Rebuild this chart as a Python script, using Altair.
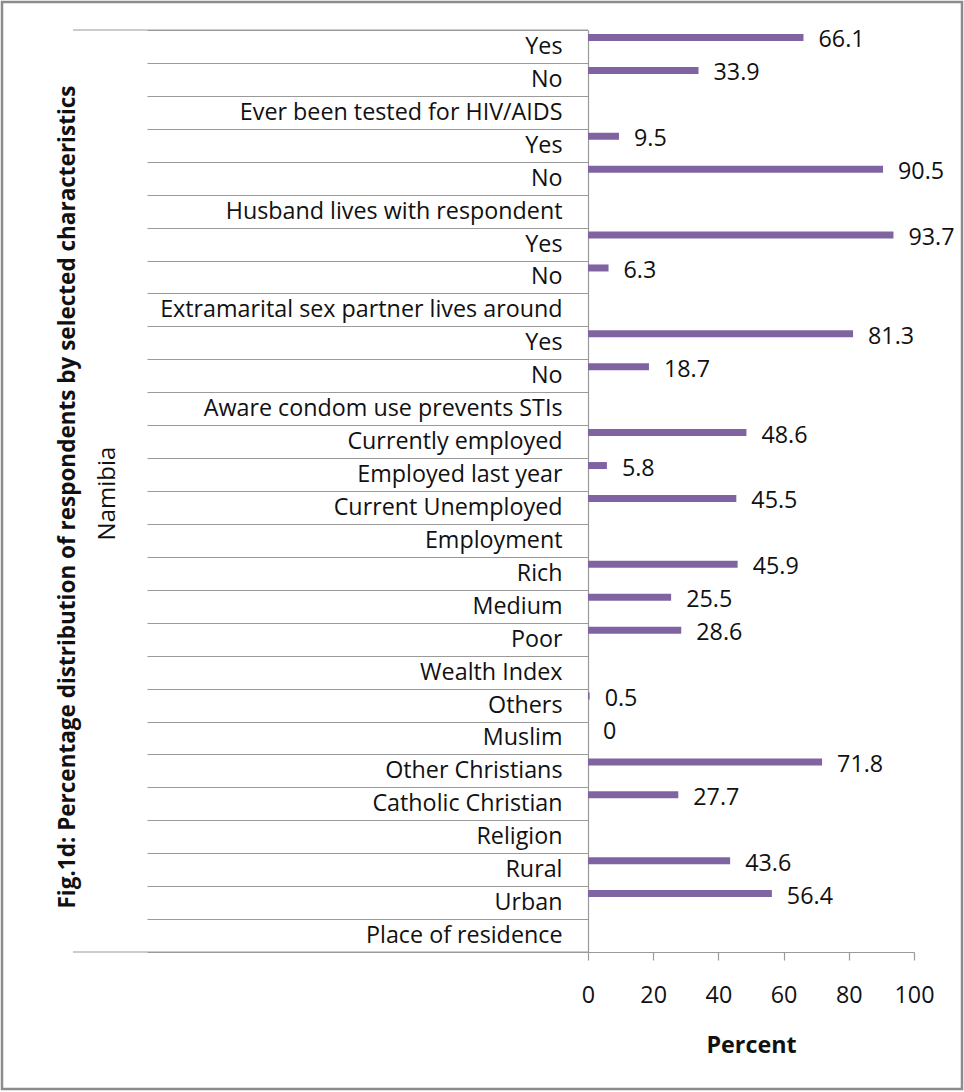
import altair as alt
import pandas as pd

categories = [
    "Yes", "No", "Ever been tested for HIV/AIDS",
    "Yes", "No", "Husband lives with respondent",
    "Yes", "No", "Extramarital sex partner lives around",
    "Yes", "No", "Aware condom use prevents STIs",
    "Currently employed", "Employed last year", "Current Unemployed", "Employment",
    "Rich", "Medium", "Poor", "Wealth Index",
    "Others", "Muslim", "Other Christians", "Catholic Christian", "Religion",
    "Rural", "Urban", "Place of residence",
]
values = [
    66.1, 33.9, None,
    9.5, 90.5, None,
    93.7, 6.3, None,
    81.3, 18.7, None,
    48.6, 5.8, 45.5, None,
    45.9, 25.5, 28.6, None,
    0.5, 0, 71.8, 27.7, None,
    43.6, 56.4, None,
]
x_ticks = [0, 20, 40, 60, 80, 100]
group_label = "Namibia"
fig_title = "Fig.1d: Percentage distribution of respondents by selected characteristics"
x_title = "Percent"

FONT = "Open Sans"
FS = 23.3
W, H = 326, 922
BAR_COLOR = "#8064A2"
LINE = "#9a9a9a"

keys = [f"{i:02d}|{c}" for i, c in enumerate(categories)]
df = pd.DataFrame({
    "key": keys,
    "value": values,
    "label": ["" if v is None else f"{v:g}" for v in values],
})
vals_df = df[df["label"] != ""].copy()
one = pd.DataFrame({"a": [0]})

y_enc = alt.Y(
    "key:N",
    sort=None,
    scale=alt.Scale(domain=keys, paddingInner=0, paddingOuter=0),
    axis=alt.Axis(
        title=group_label,
        titleX=-481, titleY=H / 2 + 2, titleAngle=270,
        titleAlign="center", titleBaseline="middle",
        titleFont=FONT, titleFontSize=24, titleFontWeight="normal", titleColor="#111",
        labelExpr="split(datum.label, '|')[1]",
        labelFont=FONT, labelFontSize=FS, labelColor="#111", labelLimit=600,
        labelPadding=-415, labelBaseline="middle",
        tickBand="extent", tickSize=441, tickColor=LINE, tickWidth=1.2,
        domainColor=LINE, domainWidth=1.2,
    ),
)
x_enc = alt.X(
    "value:Q",
    scale=alt.Scale(domain=[0, 100], nice=False),
    axis=alt.Axis(
        values=x_ticks, title=x_title,
        labelFont=FONT, labelFontSize=FS, labelColor="#111", labelPadding=24,
        labelFlush=False,
        titleFont=FONT, titleFontSize=FS, titleFontWeight="bold", titleColor="#111",
        titlePadding=28,
        tickSize=8, tickColor=LINE, tickWidth=1.2,
        domainColor=LINE, domainWidth=1.2, grid=False,
    ),
)

frame = alt.Chart(one).mark_rect(fillOpacity=0, stroke="#8c8c8c", strokeWidth=2.5).encode(
    x=alt.value(-586), x2=alt.value(374), y=alt.value(-28), y2=alt.value(1059)
)
title_txt = alt.Chart(one).mark_text(
    text=fig_title, angle=270, font=FONT, fontSize=22.5, fontWeight="bold",
    align="center", baseline="middle", color="#111"
).encode(x=alt.value(-520), y=alt.value(467))
top_rule = alt.Chart(one).mark_rule(color=LINE, strokeWidth=1.2).encode(
    x=alt.value(-515), x2=alt.value(0), y=alt.value(0)
)
bot_rule = alt.Chart(one).mark_rule(color=LINE, strokeWidth=1.2).encode(
    x=alt.value(-515), x2=alt.value(0), y=alt.value(H)
)
bars = alt.Chart(vals_df).mark_bar(size=7, yOffset=-9, color=BAR_COLOR).encode(
    x=x_enc, y=y_enc
)
labels = alt.Chart(vals_df).mark_text(
    align="left", baseline="middle", dx=15, dy=-6, font=FONT, fontSize=FS, color="#111"
).encode(x="value:Q", y=alt.Y("key:N", sort=None), text="label:N")

chart = alt.layer(frame, title_txt, top_rule, bot_rule, bars, labels).properties(
    width=W, height=H,
    padding={"left": 588, "top": 30, "right": 50, "bottom": 140},
    autosize=alt.AutoSizeParams(type="none"),
    background="white",
).configure_view(stroke=None)

chart.save("out.html", embed_options={"renderer": "svg", "actions": False})
